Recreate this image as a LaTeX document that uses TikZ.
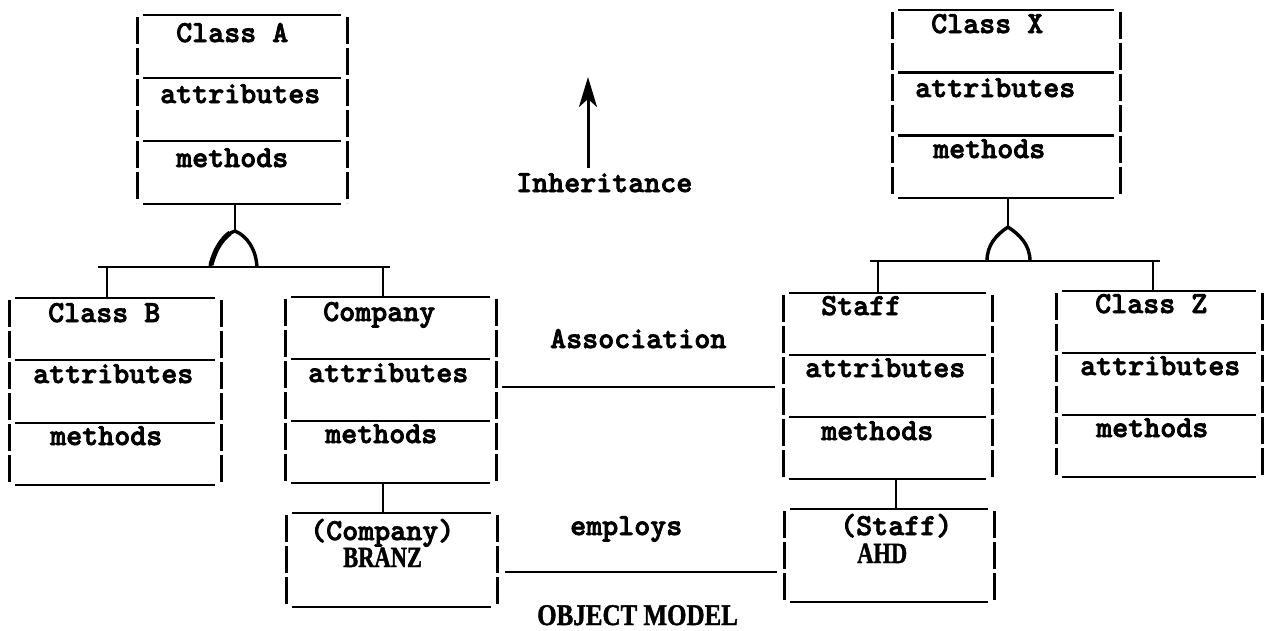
\documentclass[tikz,border=0pt]{standalone}
\usepackage{fontspec}
\newfontfamily\serifbold{Liberation Serif}[FakeBold=1.5]
\newfontfamily\twbold{lmmonolt10-bold}[Extension=.otf, FakeBold=2.5]
\usetikzlibrary{calc,arrows.meta}
\newcommand\umlframe[2]{%
  \draw[vline] ($(#1.north west)+(0,2)$) -- ($(#1.south west)+(0,-1)$);
  \draw[vline] ($(#1.north east)+(0,2)$) -- ($(#1.south east)+(0,-1)$);
  \draw[hline] ($(#1.north west)+(6,0)$) -- ($(#1.north east)+(-6,0)$);
  \draw[hline] ($(#1.south west)+(6,0)$) -- ($(#1.south east)+(-6,0)$);
  \ifnum#2=3
    \draw[hline] ($(#1.north west)!0.333!(#1.south west)+(6,0)$) -- ($(#1.north east)!0.333!(#1.south east)+(-6,0)$);
    \draw[hline] ($(#1.north west)!0.667!(#1.south west)+(6,0)$) -- ($(#1.north east)!0.667!(#1.south east)+(-6,0)$);
  \fi
}
\begin{document}
\begin{tikzpicture}[x=1pt,y=-1pt,
  box/.style={rectangle, draw=none, inner sep=0pt, outer sep=0pt},
  hline/.style={line width=2.4pt},
  vline/.style={line width=3pt, dash pattern=on 27pt off 4pt},
  txt/.style={inner sep=0pt, anchor=base west, font=\fontsize{30.5}{36}\selectfont\twbold},
  obj/.style={inner sep=0pt, anchor=base west, font=\fontsize{22.5}{27}\selectfont\serifbold\bfseries},
  conn/.style={line width=2.4pt},
  archline/.style={line width=3.4pt},
  archthick/.style={line width=5pt}]
\useasboundingbox[fill=white] (0,0) rectangle (1264,630);

% class boxes
\node[box, minimum width=210pt, minimum height=189pt] (A) at (242,109.5) {};
\node[box, minimum width=212pt, minimum height=187pt] (B) at (115,391.5) {};
\node[box, minimum width=211pt, minimum height=186pt] (C) at (390.5,390) {};
\node[box, minimum width=209pt, minimum height=186pt] (S) at (887.5,386) {};
\node[box, minimum width=206pt, minimum height=186pt] (Z) at (1159,384) {};
\node[box, minimum width=228pt, minimum height=188pt] (X) at (1006,104) {};
% object boxes
\node[box, minimum width=211pt, minimum height=94pt] (O1) at (391.5,560) {};
\node[box, minimum width=210pt, minimum height=93pt] (O2) at (889,555.5) {};

\umlframe{A}{3}
\umlframe{B}{3}
\umlframe{C}{3}
\umlframe{S}{3}
\umlframe{Z}{3}
\umlframe{X}{3}
\umlframe{O1}{1}
\umlframe{O2}{1}

% texts
\node[txt] (An) at (176,42) {Class A};
\node[txt] (Aa) at (160,103) {attributes};
\node[txt] (Am) at (176,167) {methods};
\node[txt] (Bn) at (48,322) {Class B};
\node[txt] (Ba) at (33,383) {attributes};
\node[txt] (Bm) at (50,445) {methods};
\node[txt] (Cn) at (323,321) {Company};
\node[txt] (Ca) at (308,382) {attributes};
\node[txt] (Cm) at (325,443) {methods};
\node[txt] (Sn) at (821,315) {Staff};
\node[txt] (Sa) at (805,377) {attributes};
\node[txt] (Sm) at (821,440) {methods};
\node[txt] (Zn) at (1095,313) {Class Z};
\node[txt] (Za) at (1080,375) {attributes};
\node[txt] (Zm) at (1096,437) {methods};
\node[txt] (Xn) at (931,33) {Class X};
\node[txt] (Xa) at (915,97) {attributes};
\node[txt] (Xm) at (933,158) {methods};
\node[txt] (O1c) at (310,540) {(Company)};
\node[obj] (O1n) at (343,567) {\scalebox{1}[1.3]{BRANZ}};
\node[txt] (O2c) at (840,535) {(Staff)};
\node[obj] (O2n) at (857,563) {\scalebox{1}[1.3]{AHD}};

\node[txt] (inh) at (516,192) {Inheritance};
\node[txt] (assoc) at (550,348) {Association};
\node[txt] (emp) at (570,535) {employs};
\node[inner sep=0pt, anchor=base west, font=\fontsize{25}{30}\selectfont\serifbold\bfseries] (title) at (537,625) {\scalebox{1}[1.2]{OBJECT MODEL}};

% inheritance legend arrow
\coordinate (inhTail) at (588,168);
\coordinate (inhTip) at (588,77);
\draw[conn, line width=3pt, -{Stealth[length=30pt,width=18pt,inset=8pt]}] (inhTail) -- (inhTip);

% left inheritance tree
\coordinate (archA) at (235,231);
\draw[conn] (archA |- A.south) -- (archA);
\begin{scope}[shift={(archA)}]
  \draw[archline] (-25,36) .. controls (-20,15) and (-10,3) .. (0,0) .. controls (12,5) and (21,18) .. (22,36);
  \draw[archthick] (-24,34) .. controls (-20,18) and (-13,8) .. (-5,2);
\end{scope}
\coordinate (barAl) at (98,267);
\coordinate (barAr) at (390,267);
\draw[conn] (barAl) -- (barAr);
\coordinate (tB) at (107,267);
\coordinate (tC) at (383,267);
\draw[conn] (tB) -- (tB |- B.north);
\draw[conn] (tC) -- (tC |- C.north);

% right inheritance tree
\coordinate (archX) at (1008,227);
\draw[conn] (archX |- X.south) -- (archX);
\begin{scope}[shift={(archX)}]
  \draw[archline] (-21,34) .. controls (-21,18) and (-12,8) .. (0,0) .. controls (12,8) and (22,18) .. (22,34);
\end{scope}
\coordinate (barXl) at (870,261);
\coordinate (barXr) at (1160,261);
\draw[conn] (barXl) -- (barXr);
\coordinate (tS) at (878,261);
\coordinate (tZ) at (1153,261);
\draw[conn] (tS) -- (tS |- S.north);
\draw[conn] (tZ) -- (tZ |- Z.north);

% association and instance links
\draw[conn, shorten <=6pt, shorten >=8pt] ([yshift=3pt]C.east) -- ([yshift=3pt]C.east -| S.west);
\draw[conn, shorten <=8pt, shorten >=7pt] ([yshift=-12pt]O1.east) -- ([yshift=-12pt]O1.east -| O2.west);
\draw[conn] ([xshift=-7.5pt]C.south) -- ([xshift=-7.5pt]C.south |- O1.north);
\draw[conn] ([xshift=8.5pt]S.south) -- ([xshift=8.5pt]S.south |- O2.north);
\end{tikzpicture}
\end{document}
